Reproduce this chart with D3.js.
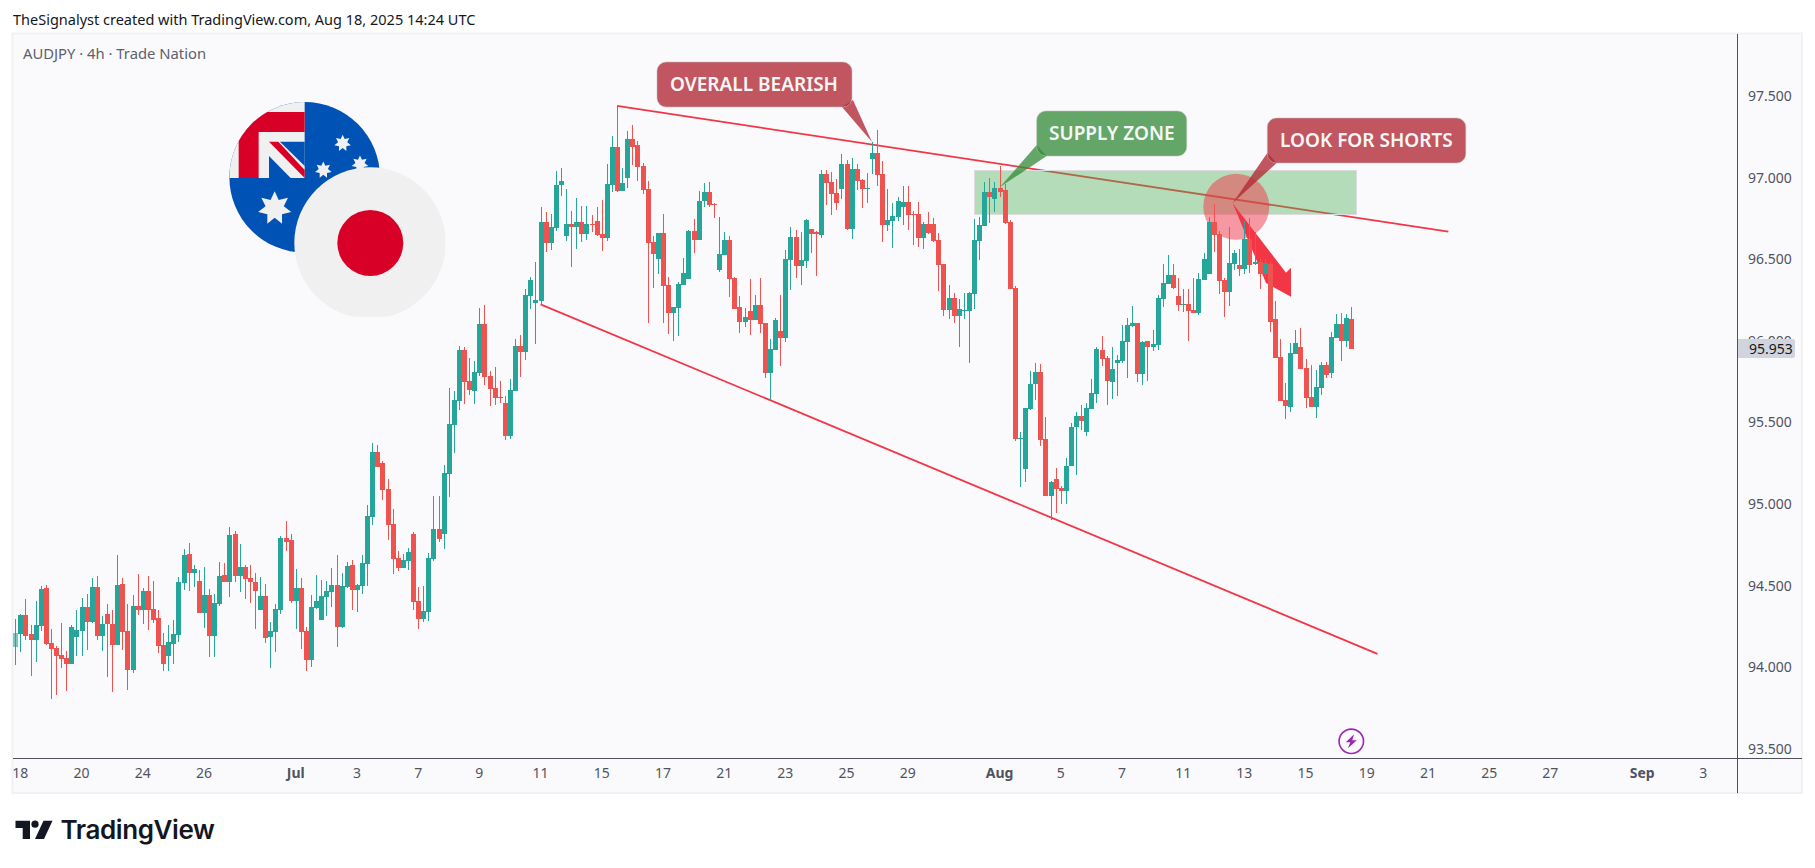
<!DOCTYPE html>
<html><head><meta charset="utf-8">
<script src="https://cdn.jsdelivr.net/npm/d3@7"></script>
<style>html,body{margin:0;padding:0;background:#fff}svg{display:block}text{font-family:"Noto Sans",sans-serif}</style>
</head><body><svg id="c" width="1815" height="868"></svg>
<script>
const opens=[94.126,94.206,94.322,94.206,94.169,94.255,94.487,94.151,94.120,94.077,94.059,94.022,94.188,94.224,94.371,94.279,94.494,94.194,94.328,94.267,94.139,94.512,94.224,93.986,94.377,94.353,94.469,94.359,94.304,94.139,94.071,94.145,94.200,94.518,94.696,94.579,94.530,94.334,94.445,94.194,94.390,94.567,94.524,94.818,94.561,94.616,94.549,94.524,94.353,94.438,94.188,94.218,94.353,94.793,94.781,94.408,
94.488,94.225,94.048,94.366,94.293,94.433,94.464,94.507,94.250,94.495,94.629,94.476,94.501,94.635,94.923,95.321,95.253,95.094,94.880,94.672,94.611,94.654,94.819,94.409,94.299,94.342,94.666,94.850,94.819,95.186,95.486,95.633,95.945,95.755,95.694,95.804,96.104,95.786,95.712,95.657,95.621,95.419,95.694,95.969,95.933,96.275,96.233,96.245,96.728,96.600,
96.692,96.955,96.643,96.716,96.698,96.728,96.655,96.716,96.735,96.655,96.631,96.955,97.188,96.918,96.998,97.237,97.200,97.071,96.931,96.606,96.502,96.661,96.343,96.171,96.202,96.343,96.379,96.673,96.618,96.857,96.912,96.839,96.435,96.526,96.618,96.386,96.208,96.116,96.184,96.128,96.220,96.110,95.804,95.945,96.061,96.018,96.496,96.637,96.459,96.490,
96.686,96.667,96.649,97.022,96.973,96.906,96.931,97.084,96.686,97.053,96.986,96.931,97.114,97.151,97.022,96.710,96.735,96.759,96.820,96.851,96.777,96.777,96.631,96.716,96.716,96.618,96.471,96.190,96.263,96.153,96.184,96.184,96.288,96.612,96.704,96.912,96.869,96.937,96.925,96.728,96.324,95.400,95.216,95.583,95.736,95.810,95.400,95.050,95.155,95.100,
95.081,95.234,95.473,95.540,95.442,95.583,95.675,95.945,95.896,95.749,95.865,95.877,95.994,96.092,96.110,95.798,96.000,95.963,95.975,96.257,96.349,96.404,96.275,96.220,96.226,96.190,96.171,96.373,96.410,96.728,96.655,96.373,96.300,96.471,96.465,96.441,96.624,96.471,96.483,96.410,96.471,96.135,95.902,95.638,95.596,95.920,95.963,95.834,95.657,95.596,95.712,95.853,95.804,96.018,96.104,96.000,96.135];
const highs=[94.298,94.328,94.420,94.261,94.408,94.500,94.506,94.237,94.132,94.273,94.102,94.261,94.353,94.426,94.451,94.549,94.561,94.316,94.390,94.353,94.689,94.549,94.390,94.445,94.573,94.487,94.561,94.530,94.353,94.212,94.261,94.292,94.555,94.726,94.763,94.628,94.598,94.616,94.481,94.451,94.647,94.640,94.861,94.836,94.757,94.628,94.628,94.579,94.555,94.512,94.279,94.390,94.806,94.897,94.818,94.604,
94.548,94.250,94.446,94.568,94.537,94.531,94.611,94.690,94.580,94.648,94.660,94.513,94.690,94.996,95.376,95.364,95.266,95.156,94.972,94.715,94.697,94.733,94.831,94.495,94.501,94.703,95.051,95.051,95.241,95.712,95.694,95.969,95.963,95.896,95.878,96.202,96.220,95.816,95.841,95.755,95.663,95.768,96.012,96.037,96.318,96.392,96.484,96.820,96.790,96.777,
97.041,97.059,96.931,96.796,96.875,96.826,96.826,96.771,96.820,96.863,97.084,97.255,97.439,97.059,97.286,97.323,97.225,97.090,96.980,96.643,96.661,96.777,96.392,96.208,96.361,96.508,96.679,96.747,96.918,96.967,96.973,96.845,96.759,96.667,96.643,96.392,96.275,96.202,96.379,96.281,96.386,96.110,96.012,96.141,96.281,96.557,96.698,96.679,96.667,96.747,
96.686,96.673,97.047,97.047,97.035,96.992,97.145,97.108,97.120,97.084,96.992,97.029,97.218,97.292,97.102,96.931,96.845,96.882,96.949,96.949,96.796,96.851,96.728,96.790,96.753,96.661,96.471,96.343,96.294,96.257,96.294,96.300,96.747,96.759,96.973,96.998,96.973,97.071,96.961,96.741,96.337,95.443,95.589,95.816,95.865,95.859,95.534,95.142,95.222,95.112,
95.283,95.498,95.565,95.608,95.620,95.767,95.963,96.030,95.908,95.963,95.914,96.098,96.141,96.214,96.110,96.000,96.000,96.067,96.281,96.471,96.526,96.471,96.386,96.318,96.318,96.386,96.416,96.539,96.759,96.839,96.673,96.386,96.698,96.557,96.563,96.735,96.753,96.667,96.508,96.502,96.483,96.245,96.012,95.743,95.987,96.067,96.079,95.890,95.853,95.822,95.871,95.871,96.055,96.165,96.171,96.165,96.208];
const lows=[94.016,94.096,94.169,93.949,94.035,94.224,94.139,93.808,93.833,93.998,93.857,94.022,94.071,94.071,94.108,94.273,94.169,94.102,93.943,93.851,94.139,94.108,93.863,93.967,94.322,94.267,94.230,94.273,94.090,93.979,93.979,94.022,94.157,94.475,94.469,94.494,94.334,94.243,94.065,94.065,94.377,94.524,94.432,94.524,94.463,94.420,94.396,94.237,94.353,94.151,93.998,94.096,94.328,94.714,94.396,94.237,
94.115,93.976,94.005,94.360,94.293,94.317,94.372,94.127,94.244,94.488,94.354,94.342,94.452,94.501,94.874,95.229,95.027,94.782,94.574,94.592,94.611,94.599,94.354,94.237,94.280,94.286,94.654,94.770,94.727,95.045,95.315,95.578,95.614,95.670,95.614,95.786,95.731,95.602,95.608,95.621,95.394,95.400,95.694,95.780,95.884,96.196,95.982,96.220,96.545,96.557,
96.673,96.888,96.612,96.453,96.563,96.606,96.618,96.667,96.643,96.551,96.612,96.912,96.912,96.918,96.937,97.078,96.980,96.900,96.110,96.324,96.410,96.110,96.043,96.000,96.030,96.343,96.379,96.539,96.618,96.820,96.820,96.753,96.422,96.526,96.269,96.196,96.049,96.085,96.036,96.128,96.049,95.773,95.638,95.945,95.847,95.994,96.312,96.386,96.343,96.447,
96.539,96.398,96.630,96.833,96.771,96.802,96.869,96.679,96.624,96.925,96.814,96.845,97.022,96.949,96.606,96.673,96.569,96.735,96.710,96.679,96.588,96.575,96.563,96.655,96.606,96.306,96.153,96.135,96.110,95.963,96.135,95.865,96.196,96.496,96.704,96.722,96.790,96.882,96.716,96.318,95.387,95.106,95.136,95.577,95.638,95.357,95.050,94.904,94.946,95.001,
95.001,95.234,95.179,95.455,95.418,95.583,95.620,95.847,95.608,95.645,95.663,95.865,95.773,96.085,95.749,95.730,95.755,95.939,95.945,96.208,96.349,96.318,96.184,96.177,96.000,96.171,96.159,96.373,96.410,96.545,96.288,96.147,96.214,96.435,96.398,96.410,96.416,96.465,96.318,96.392,96.055,95.896,95.632,95.522,95.565,95.920,95.828,95.589,95.596,95.528,95.669,95.773,95.773,96.018,95.877,95.963,95.951];
const closes=[94.212,94.322,94.194,94.169,94.261,94.481,94.145,94.114,94.071,94.053,94.022,94.249,94.230,94.371,94.279,94.494,94.194,94.267,94.267,94.139,94.506,94.218,93.986,94.377,94.353,94.469,94.353,94.292,94.132,94.022,94.157,94.206,94.524,94.689,94.579,94.604,94.334,94.445,94.194,94.396,94.561,94.524,94.812,94.561,94.616,94.542,94.524,94.469,94.438,94.181,94.224,94.359,94.793,94.769,94.408,94.487,
94.219,94.048,94.372,94.409,94.439,94.470,94.507,94.250,94.501,94.623,94.476,94.507,94.641,94.929,95.321,95.229,95.088,94.874,94.666,94.611,94.660,94.709,94.403,94.299,94.348,94.672,94.850,94.788,95.192,95.492,95.639,95.945,95.749,95.700,95.810,96.104,95.780,95.706,95.651,95.651,95.419,95.700,95.969,95.933,96.282,96.373,96.251,96.728,96.600,96.698,
96.955,96.980,96.716,96.698,96.728,96.655,96.716,96.710,96.649,96.631,96.961,97.188,96.918,96.967,97.237,97.188,97.065,96.925,96.600,96.533,96.661,96.337,96.171,96.208,96.349,96.416,96.673,96.618,96.857,96.912,96.833,96.833,96.533,96.618,96.379,96.196,96.116,96.147,96.128,96.220,96.104,95.804,95.951,96.128,96.018,96.502,96.637,96.459,96.496,96.741,
96.655,96.655,97.022,96.967,96.900,96.845,97.084,96.686,97.053,96.980,96.931,96.937,97.151,97.016,96.710,96.741,96.765,96.857,96.851,96.771,96.771,96.631,96.716,96.661,96.612,96.465,96.190,96.263,96.153,96.196,96.190,96.294,96.618,96.710,96.912,96.882,96.937,96.912,96.722,96.318,95.400,95.406,95.589,95.736,95.810,95.393,95.050,95.136,95.093,95.081,
95.234,95.473,95.540,95.510,95.589,95.681,95.951,95.890,95.755,95.828,95.883,96.000,96.098,96.110,95.798,95.994,95.963,95.981,96.263,96.355,96.404,96.324,96.220,96.226,96.184,96.171,96.379,96.502,96.728,96.649,96.367,96.300,96.477,96.539,96.441,96.624,96.465,96.483,96.410,96.477,96.116,95.896,95.632,95.602,95.926,95.987,95.828,95.651,95.596,95.718,95.853,95.792,96.024,96.104,96.000,96.141,95.953];
const timeTickBars=[1,13,25,37,55,67,79,91,103,115,127,139,151,163,175,193,205,217,229,241,253,265,277,289,301,319,331];
const timeTickLabels=["18","20","24","26","Jul","3","7","9","11","15","17","21","23","25","29","Aug","5","7","11","13","15","19","21","25","27","Sep","3"];
const priceTicks=[97.5,97,96.5,96,95.5,95,94.5,94,93.5];
const lastPrice=95.953;
const upperTrend=[[117.9,97.439],[280.9,96.669]];
const lowerTrend=[[102.9,96.224],[267,94.083]];

const UP="#26a69a",DOWN="#ef5350",LINE="#f23645",AXIS="#50505c",TXT="#50535e";
const svg=d3.select("#c");
const x=d3.scaleLinear().domain([0,1]).range([15.75,20.85]);
const y=d3.scaleLinear().domain([97.5,93.5]).range([96,749]);
const defs=svg.append("defs");

// pane
svg.append("rect").attr("x",12.5).attr("y",33.5).attr("width",1789.5).attr("height",759.5).attr("fill","#fafafd").attr("stroke","#f1f1f3").attr("stroke-width",2);
const rx=(s,c,t)=>s.append("text").attr("x",c.x).attr("y",c.y).attr("font-size",c.fs).attr("fill",c.fill).text(t);
rx(svg,{x:13,y:24.5,fs:14.5,fill:"#131722"},"TheSignalyst created with TradingView.com, Aug 18, 2025 14:24 UTC");
rx(svg,{x:23,y:58.5,fs:14.8,fill:"#5d606b"},"AUDJPY · 4h · Trade Nation");

// flags
const flags=svg.append("g");
defs.append("clipPath").attr("id","aud").append("circle").attr("cx",304.7).attr("cy",177.3).attr("r",75.3);
const aud=flags.append("g").attr("clip-path","url(#aud)");
const zx=z=>200+z/3, zy=z=>90+z/3;
const poly=(g,pts,fill)=>g.append("polygon").attr("points",pts.map(p=>zx(p[0])+","+zy(p[1])).join(" ")).attr("fill",fill);
aud.append("rect").attr("x",225).attr("y",100).attr("width",160).attr("height",160).attr("fill","#0052b4");
poly(aud,[[88,36],[314,36],[314,264],[88,264]],"#f0f0f0");
poly(aud,[[116,66],[314,66],[314,126],[176,126],[176,264],[116,264]],"#d80027");
poly(aud,[[240,155],[314,155],[314,228]],"#0052b4");
poly(aud,[[207,198],[207,264],[272,264]],"#0052b4");
poly(aud,[[207,155],[235,155],[314,240],[314,264]],"#d80027");
const star=(cx,cy,r)=>{const n=7,pts=[];for(let i=0;i<2*n;i++){const a=-Math.PI/2+i*Math.PI/n,rr=i%2?r*0.55:r;pts.push((cx+rr*Math.cos(a))+","+(cy+rr*Math.sin(a)));}
  flags.append("polygon").attr("points",pts.join(" ")).attr("fill","#f0f0f0");};
star(zx(224),zy(355),17);star(zx(428),zy(160),8.5);star(zx(370),zy(240),8.5);star(zx(480),zy(222),8.5);
defs.append("clipPath").attr("id","jpy").append("rect").attr("x",290).attr("y",160).attr("width",155.6).attr("height",156.7);
flags.append("circle").attr("cx",370).attr("cy",243).attr("r",75.7).attr("fill","#f0f0f0").attr("clip-path","url(#jpy)");
flags.append("circle").attr("cx",370.3).attr("cy",243).attr("r",33).attr("fill","#d80027");

// trend lines, zone, circle, arrow beneath candles
const ln=d3.line().x(d=>x(d[0])).y(d=>y(d[1]));
svg.append("path").attr("d",ln(upperTrend)).attr("fill","none").attr("stroke",LINE).attr("stroke-width",1.8);
svg.append("path").attr("d",ln(lowerTrend)).attr("fill","none").attr("stroke",LINE).attr("stroke-width",1.8);
svg.append("rect").attr("x",974.5).attr("y",170.5).attr("width",382).attr("height",44).attr("fill","rgba(76,175,80,.4)").attr("stroke","#dcdce0").attr("stroke-width",1);
svg.append("circle").attr("cx",1236.3).attr("cy",206.7).attr("r",33).attr("fill","rgba(242,54,69,.5)");
svg.append("polygon").attr("points","1232.7,203.3 1286,272.7 1291,267.7 1291,296.7 1266,283").attr("fill",LINE);

// candles
const bars=d3.range(opens.length).map(i=>({i,o:opens[i],h:highs[i],l:lows[i],c:closes[i]}));
const col=d=>d.c>=d.o?UP:DOWN;
const g=svg.append("g").attr("shape-rendering","crispEdges");
g.selectAll("rect.w").data(bars).join("rect").attr("class","w")
 .attr("x",d=>Math.floor(x(d.i))).attr("width",1)
 .attr("y",d=>Math.round(y(d.h))).attr("height",d=>Math.max(1,Math.round(y(d.l))-Math.round(y(d.h))))
 .attr("fill",col);
g.selectAll("rect.b").data(bars).join("rect").attr("class","b")
 .attr("x",d=>Math.floor(x(d.i))-2).attr("width",5)
 .attr("y",d=>Math.round(y(Math.max(d.o,d.c))))
 .attr("height",d=>Math.max(1,Math.round(y(Math.min(d.o,d.c)))-Math.round(y(Math.max(d.o,d.c)))))
 .attr("fill",col).attr("opacity",d=>d.i===0?0.6:1);

// callouts
function callout(bx,by,bw,bh,tail,fill,label,tx){
  const G=svg.append("g");
  G.append("polygon").attr("points",tail.map(p=>p.join(",")).join(" ")).attr("fill",fill);
  G.append("rect").attr("x",bx).attr("y",by).attr("width",bw).attr("height",bh).attr("rx",9).attr("fill",fill).attr("stroke","rgba(190,190,190,.55)");
  G.append("text").attr("x",tx).attr("y",by+bh/2+6.5).attr("font-size",19).attr("font-weight",600).attr("fill","#f6f6f6").text(label);
}
callout(657,62,195,45,[[842,107],[853,100],[872,142]],"rgba(178,40,51,.78)","OVERALL BEARISH",670);
callout(1036.7,111,150,45,[[1036.7,145],[1046.7,156],[1000,187]],"rgba(56,142,60,.78)","SUPPLY ZONE",1049);
callout(1267.3,118,198.5,45,[[1267.3,153],[1276.7,163],[1232.7,203]],"rgba(178,40,51,.78)","LOOK FOR SHORTS",1280);

// axes
const yAxis=d3.axisRight(y).tickValues(priceTicks).tickFormat(d3.format(".3f")).tickSize(0).tickPadding(11);
const ya=svg.append("g").attr("transform","translate(1737,0)").call(yAxis);
ya.select(".domain").remove();
ya.selectAll("text").attr("font-size",14).attr("fill",TXT).style("font-family",'"Noto Sans",sans-serif');
const lab=new Map(timeTickBars.map((b,i)=>[b,timeTickLabels[i]]));
const xAxis=d3.axisBottom(x).tickValues(timeTickBars).tickFormat(b=>lab.get(b)).tickSize(0).tickPadding(10);
const xa=svg.append("g").attr("transform","translate(-1,758)").call(xAxis);
xa.select(".domain").remove();
xa.selectAll("text").attr("font-size",14).attr("fill",TXT).style("font-family",'"Noto Sans",sans-serif')
  .attr("font-weight",function(){return /[A-Za-z]/.test(this.textContent)?700:400;});
svg.append("line").attr("x1",13).attr("x2",1802).attr("y1",758.5).attr("y2",758.5).attr("stroke",AXIS);
svg.append("line").attr("x1",1737.5).attr("x2",1737.5).attr("y1",34).attr("y2",793).attr("stroke",AXIS);

// last price tag
const ly=y(lastPrice);
svg.append("path").attr("d",`M1738 ${ly-9.5}H1793a2 2 0 0 1 2 2V${ly+7.5}a2 2 0 0 1 -2 2H1738Z`).attr("fill","#d1d4dc");
svg.append("text").attr("x",1749).attr("y",ly+5).attr("font-size",14).attr("fill","#131722").text(d3.format(".3f")(lastPrice));

// lightning badge
const badge=svg.append("g").attr("transform","translate(1351.3,741.3)");
badge.append("circle").attr("r",12.2).attr("fill","none").attr("stroke","#9c27b0").attr("stroke-width",1.6);
badge.append("polygon").attr("points","2.8,-7 -5.5,1 -1,1 -3.4,7 5.5,-1 1,-1").attr("fill","#9c27b0");

// logo
const logo=svg.append("g").attr("fill","#131722");
logo.append("path").attr("d","M15.5 820.7H30V839H22.7V828H15.5Z");
logo.append("circle").attr("cx",35).attr("cy",824.2).attr("r",3.6);
logo.append("path").attr("d","M43.5 820.7H52.5L44 839H35Z");
logo.append("text").attr("x",60.5).attr("y",838.5).attr("font-size",26).attr("font-weight",600).style("font-family","Inter,sans-serif").attr("letter-spacing",-0.4).text("TradingView");
</script></body></html>
